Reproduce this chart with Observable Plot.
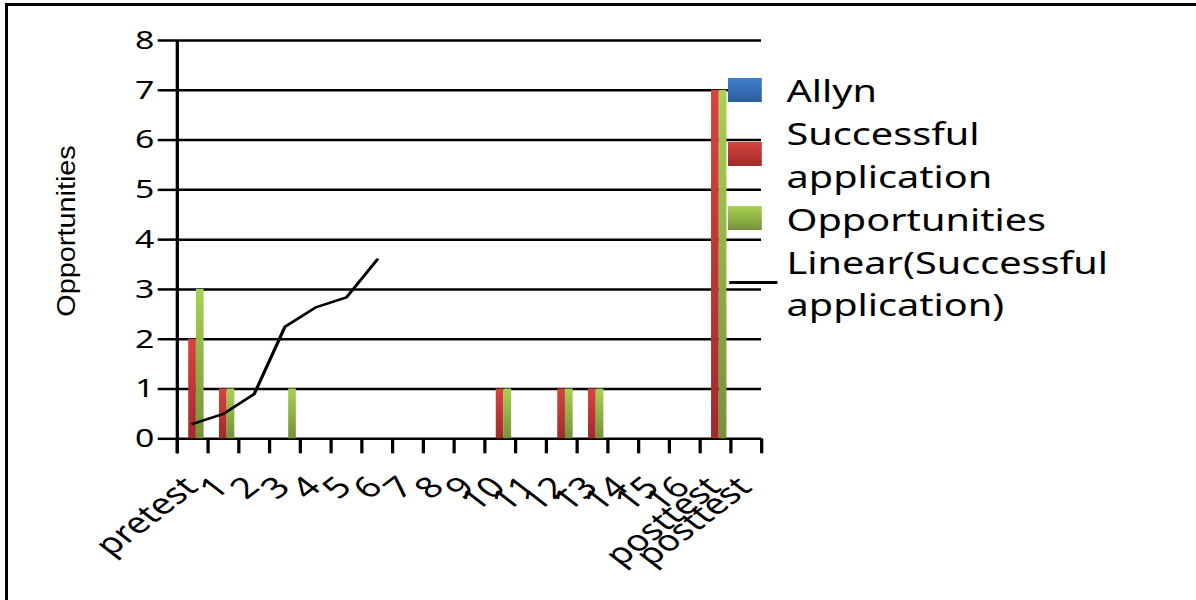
<!DOCTYPE html>
<html>
<head>
<meta charset="utf-8">
<script src="https://cdn.jsdelivr.net/npm/d3@7"></script>
<script src="https://cdn.jsdelivr.net/npm/@observablehq/plot@0.6"></script>
<style>
html, body { margin: 0; padding: 0; background: #fff; overflow: hidden; width: 1196px; height: 600px; }
#frame { position: absolute; left: 5px; top: 3px; right: -10px; bottom: -10px; border-left: 3px solid #000; border-top: 3px solid #000; }
#stretch { position: absolute; left: 0; top: 0; width: 920px; height: 600px; transform: scaleX(1.3); transform-origin: 0 0; }
#stretch svg { position: absolute; left: 0; top: 0; }
.sw { position: absolute; }
.lg { position: absolute; font-family: "Noto Sans", sans-serif; font-size: 30.5px; line-height: 42.8px; white-space: nowrap; color: #000; }
#ytitle { position: absolute; left: 66px; top: 231px; font-family: "Liberation Sans", Arial, sans-serif; font-size: 26px; line-height: 1; white-space: nowrap; color: #000; }
</style>
</head>
<body>
<div id="frame"></div>
<div id="stretch"></div>
<div id="ytitle"></div>
<script>
// ---- data ----
const categories = ["pretest","1","2","3","4","5","6","7","8","9","10","11","12","13","14","15","16","posttest","posttest"];
const allyn = [0,0,0,0,0,0,0,0,0,0,0,0,0,0,0,0,0,0,0];
const successfulApplication = [2,1,0,0,0,0,0,0,0,0,1,0,1,1,0,0,0,7,0];
const opportunities = [3,1,0,1,0,0,0,0,0,0,1,0,1,1,0,0,0,7,0];
const linearTrend = [0.3,0.5,0.9,2.25,2.64,2.84,3.6];
const yTicks = [0,1,2,3,4,5,6,7,8];
const seriesNames = ["Allyn","Successful application","Opportunities","Linear(Successful application)"];
const yTitle = "Opportunities";

// ---- layout (unstretched coordinates; the whole chart is stretched horizontally) ----
const W = 920, H = 600;
const ml = 135.9, mr = W - 585.4, mt = 40, mb = H - 438.3;
const n = categories.length;
const bw = (W - ml - mr) / n;
const slot = bw * 0.25;
const idx = d3.range(n);
const pxPerUnit = (H - mt - mb) / 8;
const tickUnits = 15 / pxPerUnit;
const rows = vals => idx.map(i => ({i, v: vals[i]})).filter(d => d.v > 0);

const plot = Plot.plot({
  width: W, height: H,
  marginLeft: ml, marginRight: mr, marginTop: mt, marginBottom: mb,
  style: {fontFamily: "'Noto Sans', sans-serif", fontSize: "26px", color: "#000", background: "transparent", overflow: "visible"},
  x: {type: "band", domain: idx, padding: 0, round: false, axis: null},
  y: {domain: [0, 8], axis: null},
  marks: [
    Plot.ruleY(yTicks, {stroke: "#000", strokeWidth: 2.5}),
    Plot.barY(rows(allyn), {x: "i", y: "v", fill: "url(#gBlue)", insetLeft: bw/2 - 1.5*slot, insetRight: bw/2 + slot/2}),
    Plot.barY(rows(successfulApplication), {x: "i", y: "v", fill: "url(#gRed)", insetLeft: bw/2 - slot/2, insetRight: bw/2 - slot/2}),
    Plot.barY(rows(opportunities), {x: "i", y: "v", fill: "url(#gGreen)", insetLeft: bw/2 + slot/2, insetRight: bw/2 - 1.5*slot}),
    Plot.line(linearTrend.map((v, i) => ({i, v})), {x: "i", y: "v", stroke: "#000", strokeWidth: 2.5}),
    Plot.ruleX([0], {x: d => d, dx: -bw/2, y1: -tickUnits, y2: 8, stroke: "#000", strokeWidth: 2.5}),
    Plot.ruleX(idx, {x: d => d, dx: -bw/2, y1: -tickUnits, y2: 0, stroke: "#000", strokeWidth: 2.5}),
    Plot.ruleX([n - 1], {x: d => d, dx: bw/2, y1: -tickUnits, y2: 0, stroke: "#000", strokeWidth: 2.5}),
    Plot.axisY(yTicks, {tickSize: 14.6, tickPadding: 3, fontSize: 26, tickFormat: d3.format("d"), stroke: "#000", strokeWidth: 2.5, label: null}),
    Plot.text(idx, {x: d => d, frameAnchor: "bottom", text: i => categories[i], rotate: -45, textAnchor: "end", lineAnchor: "bottom", dx: 5.4, dy: 50, fontSize: 29, fill: "#000"})
  ]
});

const defs = d3.select(plot).insert("defs", ":first-child");
function grad(id, c1, c2) {
  const g = defs.append("linearGradient").attr("id", id).attr("x1", 0).attr("y1", 0).attr("x2", 0).attr("y2", 1);
  g.append("stop").attr("offset", "0%").attr("stop-color", c1);
  g.append("stop").attr("offset", "100%").attr("stop-color", c2);
}
grad("gBlue", "#3f80cc", "#2c5d9c");
grad("gRed", "#d8433e", "#a02b29");
grad("gGreen", "#a9d152", "#75923a");

const stretch = document.getElementById("stretch");
stretch.appendChild(plot);

// ---- legend ----
const swatchCss = [
  "linear-gradient(#3f80cc,#2c5d9c)",
  "linear-gradient(#d8433e,#a02b29)",
  "linear-gradient(#a9d152,#75923a)",
  null
];
const lgLeft = 560, textLeft = 605, lineH = 42.8, firstTop = 69.4;
let line = 0;
seriesNames.forEach((name, k) => {
  const parts = name.split(" ");
  const top = firstTop + line * lineH;
  const center = top + parts.length * lineH / 2 - 1;
  const t = document.createElement("div");
  t.className = "lg";
  t.style.left = textLeft + "px";
  t.style.top = top + "px";
  parts.forEach((p, j) => {
    if (j) t.appendChild(document.createElement("br"));
    t.appendChild(document.createTextNode(p));
  });
  stretch.appendChild(t);
  const s = document.createElement("div");
  s.className = "sw";
  if (swatchCss[k]) {
    s.style.left = lgLeft + "px"; s.style.width = "25.6px";
    s.style.top = (center - 12) + "px"; s.style.height = "24px";
    s.style.background = swatchCss[k];
  } else {
    s.style.left = (lgLeft + 0.8) + "px"; s.style.width = "37.7px";
    s.style.top = (center - 1.25) + "px"; s.style.height = "2.5px";
    s.style.background = "#000";
  }
  stretch.appendChild(s);
  line += parts.length;
});

// ---- y title ----
const yt = document.getElementById("ytitle");
yt.textContent = yTitle;
const k = 172 / yt.offsetWidth;
yt.style.transform = `translate(-50%,-50%) rotate(-90deg) scaleX(${k})`;
</script>
</body>
</html>
